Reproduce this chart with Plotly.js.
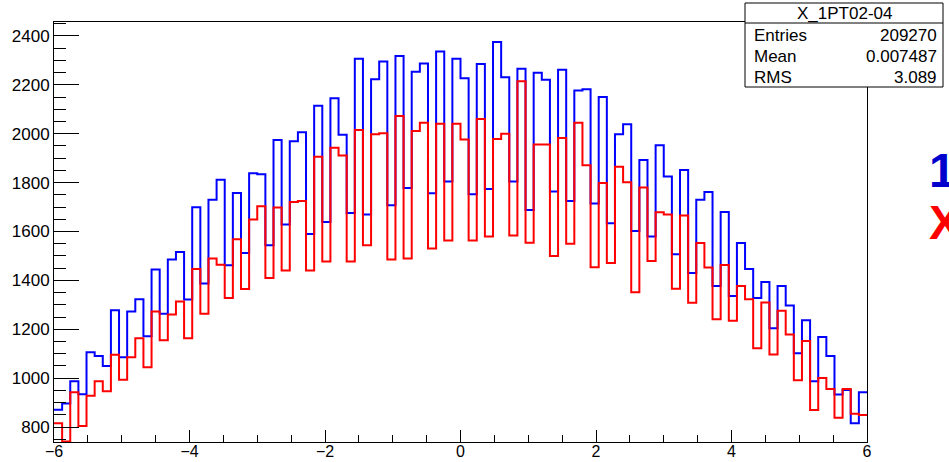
<!DOCTYPE html>
<html>
<head>
<meta charset="utf-8">
<script src="https://cdn.plot.ly/plotly-3.0.1.min.js"></script>
<style>html,body{margin:0;padding:0;background:#fff;}#chart{width:949px;height:462px;}</style>
</head>
<body>
<div id="chart"></div>
<script>
// Histogram range (100 bins from -6 to 6)
const xMin = -6;
const xMax = 6;

// Blue histogram contents (per bin)
const blueCounts = [
  871, 896, 988, 934, 1106, 1091, 1050, 1278, 1086, 1273,
  1323, 1172, 1445, 1264, 1486, 1516, 1322, 1699, 1387, 1730,
  1812, 1462, 1758, 1512, 1838, 1834, 1544, 1974, 1629, 1969,
  2006, 1590, 2114, 1639, 2145, 1996, 1676, 2307, 1670, 2223,
  2295, 1707, 2318, 1778, 2254, 2287, 1756, 2336, 1805, 2307,
  2227, 1752, 2285, 1774, 2375, 2231, 1805, 2266, 1688, 2249,
  2221, 1764, 2262, 1725, 2177, 2182, 1715, 2150, 1634, 1998,
  2039, 1602, 1893, 1580, 1953, 1825, 1507, 1852, 1430, 1730,
  1762, 1377, 1680, 1336, 1553, 1447, 1328, 1393, 1204, 1377,
  1297, 1102, 1237, 988, 1168, 1091, 933, 952, 816, 942
];

// Red histogram contents (per bin)
const redCounts = [
  816, 741, 943, 804, 928, 988, 947, 1096, 994, 1086,
  1163, 1045, 1273, 1155, 1261, 1314, 1163, 1447, 1264, 1490,
  1464, 1328, 1568, 1365, 1649, 1703, 1410, 1698, 1441, 1721,
  1725, 1441, 1906, 1477, 1943, 1911, 1477, 2015, 1544, 1998,
  2002, 1486, 2073, 1490, 2011, 2045, 1530, 2041, 1563, 2041,
  1976, 1563, 2060, 1580, 1978, 2000, 1584, 2215, 1554, 1956,
  1956, 1500, 1983, 1550, 2045, 1871, 1454, 1798, 1471, 1865,
  1801, 1352, 1780, 1479, 1679, 1670, 1366, 1666, 1309, 1553,
  1453, 1241, 1463, 1235, 1377, 1323, 1122, 1310, 1097, 1276,
  1179, 992, 1152, 870, 1001, 956, 838, 956, 855, 849
];

// Text content
const histName = "X_1PT02-04";
const statLabels = ["Entries", "Mean", "RMS"];
const statValues = ["209270", "0.007487", "3.089"];
const sideTexts = ["1", "X"];

function stepXY(counts) {
  const n = counts.length;
  const w = (xMax - xMin) / n;
  const xs = [], ys = [];
  for (let i = 0; i <= n; i++) {
    xs.push(xMin + i * w);
    ys.push(i < n ? counts[i] : counts[n - 1]);
  }
  return {x: xs, y: ys};
}

const b = stepXY(blueCounts);
const r = stepXY(redCounts);

const traces = [
  {x: b.x, y: b.y, type: 'scatter', mode: 'lines', line: {shape: 'hv', color: '#0000ff', width: 2}, hoverinfo: 'skip'},
  {x: r.x, y: r.y, type: 'scatter', mode: 'lines', line: {shape: 'hv', color: '#ff0000', width: 2}, hoverinfo: 'skip'}
];

// pixel helpers for paper coordinates
const L = 54, R = 867, T = 22, B = 442;
const px = x => (x - L) / (R - L);
const py = y => (B - y) / (B - T);

const font = "'Liberation Sans', Arial, Helvetica, sans-serif";

const annotations = [];
annotations.push({xref: 'paper', yref: 'paper', x: px(466), y: py(2), xanchor: 'center', yanchor: 'bottom',
  text: histName, showarrow: false, font: {family: font, size: 30, color: '#000'}});
annotations.push({xref: 'paper', yref: 'paper', x: px(844), y: py(13), xanchor: 'center', yanchor: 'middle',
  text: histName, showarrow: false, font: {family: font, size: 17, color: '#000'}});
const rowY = [35.5, 56.7, 78];
for (let i = 0; i < statLabels.length; i++) {
  annotations.push({xref: 'paper', yref: 'paper', x: px(752), y: py(rowY[i]), xanchor: 'left', yanchor: 'middle',
    text: statLabels[i], showarrow: false, font: {family: font, size: 17, color: '#000'}});
  annotations.push({xref: 'paper', yref: 'paper', x: px(939), y: py(rowY[i]), xanchor: 'right', yanchor: 'middle',
    text: statValues[i], showarrow: false, font: {family: font, size: 17, color: '#000'}});
}
annotations.push({xref: 'paper', yref: 'paper', x: px(927), y: py(170), xanchor: 'left', yanchor: 'middle',
  text: '<b>' + sideTexts[0] + '</b>', showarrow: false, font: {family: font, size: 48, color: '#0000cc'}});
annotations.push({xref: 'paper', yref: 'paper', x: px(927), y: py(223), xanchor: 'left', yanchor: 'middle',
  text: '<b>' + sideTexts[1] + '</b>', showarrow: false, font: {family: font, size: 48, color: '#ff0000'}});

const shapes = [
  {type: 'rect', xref: 'paper', yref: 'paper', x0: px(745), x1: px(943), y0: py(87), y1: py(3),
    line: {color: '#000', width: 1}, fillcolor: '#fff', layer: 'above'},
  {type: 'line', xref: 'paper', yref: 'paper', x0: px(745), x1: px(943), y0: py(23), y1: py(23),
    line: {color: '#000', width: 1}, layer: 'above'}
];

const layout = {
  width: 949, height: 462,
  margin: {l: L, r: 949 - R, t: T, b: 462 - B, pad: 0},
  paper_bgcolor: '#fff', plot_bgcolor: '#fff',
  showlegend: false,
  font: {family: font, color: '#000'},
  xaxis: {
    range: [xMin, xMax], tick0: -6, dtick: 2, ticks: 'inside', ticklen: 12, tickwidth: 1, tickcolor: '#000',
    minor: {dtick: 0.5, ticks: 'inside', ticklen: 7, tickwidth: 1, tickcolor: '#000', showgrid: false},
    showline: true, mirror: true, linecolor: '#000', linewidth: 1,
    showgrid: false, zeroline: false, tickfont: {family: font, size: 16, color: '#000'}, automargin: false,
    ticklabelstandoff: -5
  },
  yaxis: {
    range: [739, 2457], tick0: 0, dtick: 200, ticks: 'inside', ticklen: 25, tickwidth: 1, tickcolor: '#000',
    minor: {dtick: 50, ticks: 'inside', ticklen: 12, tickwidth: 1, tickcolor: '#000', showgrid: false},
    showline: true, mirror: true, linecolor: '#000', linewidth: 1,
    showgrid: false, zeroline: false, tickfont: {family: font, size: 17, color: '#000'}, automargin: false
  },
  annotations: annotations,
  shapes: shapes
};

Plotly.newPlot('chart', traces, layout, {displayModeBar: false, staticPlot: true});
</script>
</body>
</html>
